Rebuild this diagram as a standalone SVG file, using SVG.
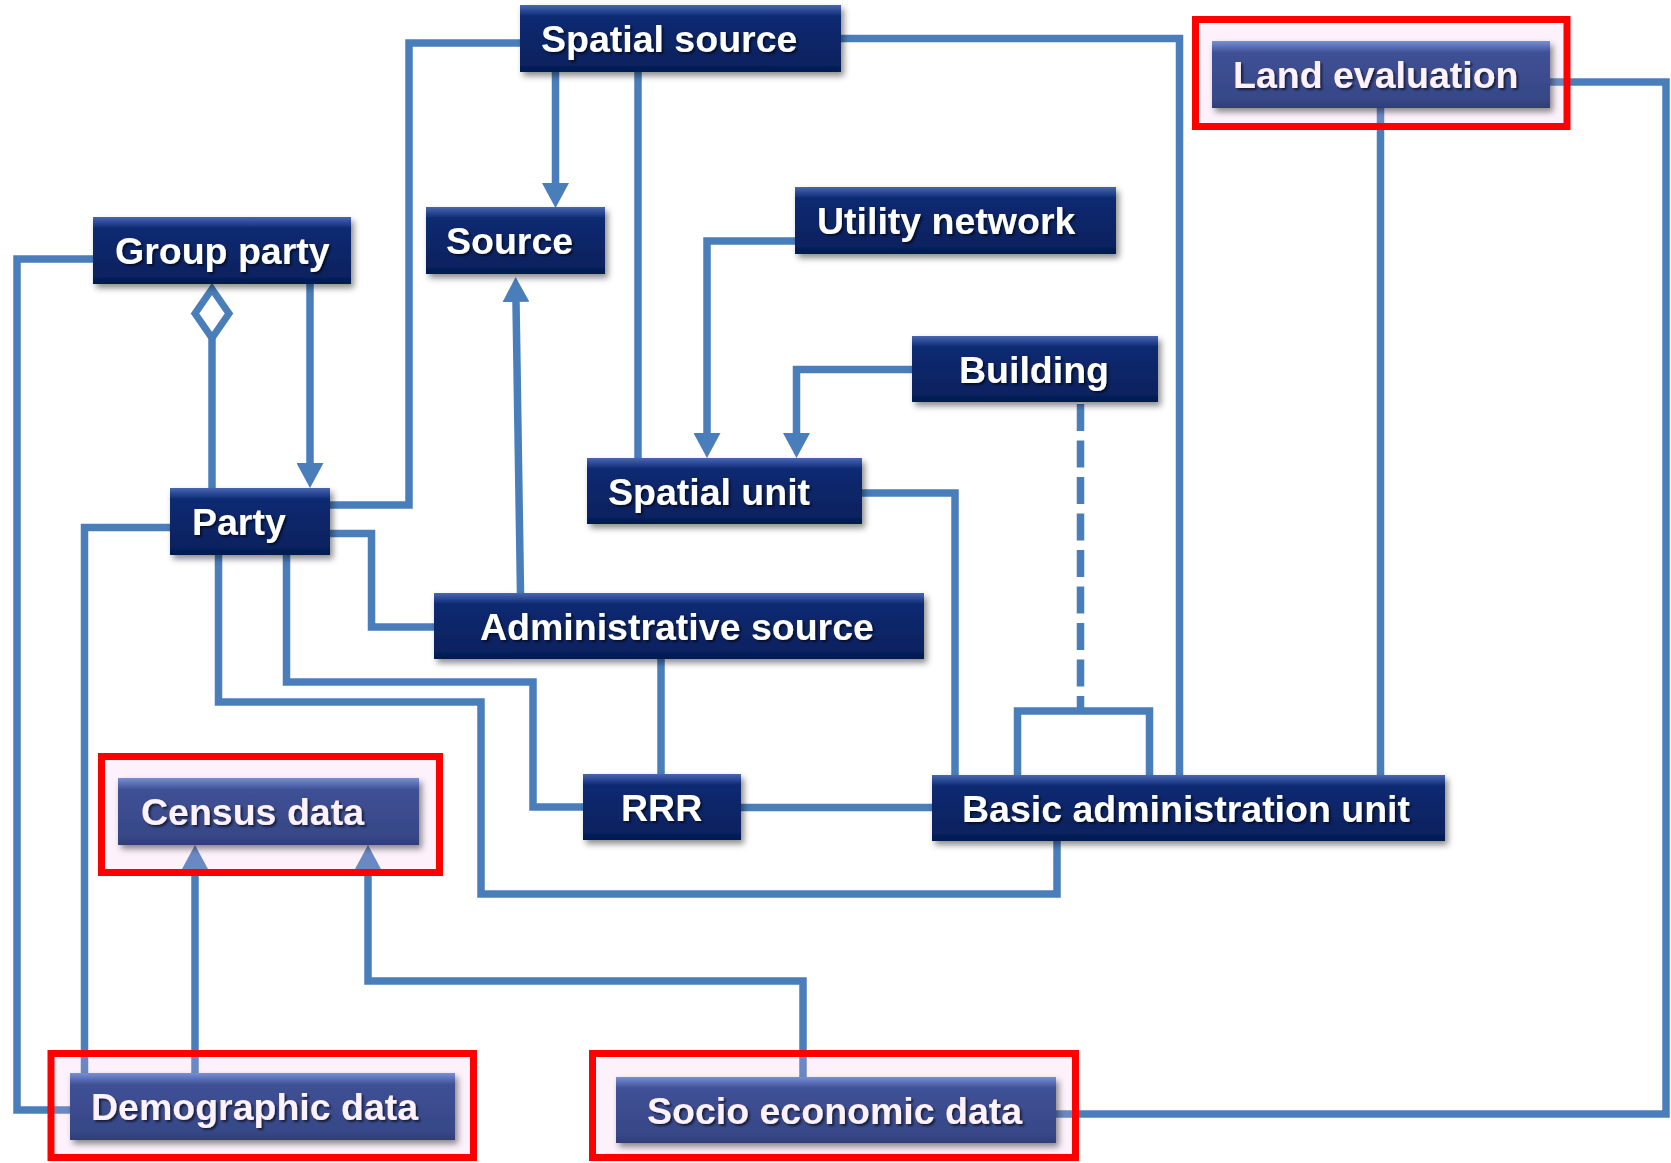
<svg xmlns="http://www.w3.org/2000/svg" width="1671" height="1163" viewBox="0 0 1671 1163">
<defs>
<linearGradient id="navy" x1="0" y1="0" x2="0" y2="1">
<stop offset="0" stop-color="#4a66b0"/>
<stop offset="0.08" stop-color="#2c4a96"/>
<stop offset="0.17" stop-color="#0c2a72"/>
<stop offset="0.88" stop-color="#07225f"/>
<stop offset="1" stop-color="#041a4e"/>
</linearGradient>
<linearGradient id="pastel" x1="0" y1="0" x2="0" y2="1">
<stop offset="0" stop-color="#7b8fd0"/>
<stop offset="0.08" stop-color="#5c72bb"/>
<stop offset="0.17" stop-color="#3f5195"/>
<stop offset="0.88" stop-color="#374787"/>
<stop offset="1" stop-color="#2f3d76"/>
</linearGradient>
<filter id="shadow" x="-10%" y="-20%" width="125%" height="160%">
<feDropShadow dx="3" dy="4" stdDeviation="3" flood-color="#000" flood-opacity="0.45"/>
</filter>
<filter id="tshadow" x="-5%" y="-20%" width="115%" height="150%">
<feDropShadow dx="2" dy="2" stdDeviation="1" flood-color="#000" flood-opacity="0.6"/>
</filter>
<marker id="arrow" viewBox="0 0 25 27" refX="0" refY="13.5" markerWidth="25" markerHeight="27" markerUnits="userSpaceOnUse" orient="auto">
<path d="M0,0 L25,13.5 L0,27 z" fill="#4a7ebb"/>
</marker>
</defs>
<style>
.c{fill:none;stroke:#4a7ebb;stroke-width:7.5;stroke-linejoin:miter}
.a{marker-end:url(#arrow)}
.d{stroke-dasharray:27 9.5}
.n{fill:url(#navy);filter:url(#shadow)}
.p{fill:url(#pastel);filter:url(#shadow)}
.t{font-family:"Liberation Sans",Arial,sans-serif;font-weight:bold;font-size:37.5px;fill:#ffffff;filter:url(#tshadow)}
.tp{fill:#fdf1fb}
.ov{fill:rgb(245,186,240);fill-opacity:0.19}
.rf{fill:none;stroke:#ff0000;stroke-width:7}
</style>
<rect width="1671" height="1163" fill="#ffffff"/>
<g id="connectors">
<path class="c" d="M520,43 H409 V505 H330"/>
<path class="c a" d="M555.5,72 V183"/>
<path class="c" d="M638,72 V458"/>
<path class="c" d="M841,38.5 H1179.5 V775"/>
<path class="c" d="M93,259 H17 V1110 H70"/>
<path class="c" d="M212,338 V488"/>
<polygon points="212,289 229,313.5 212,338 195,313.5" fill="#ffffff" stroke="#4a7ebb" stroke-width="7"/>
<path class="c a" d="M310,284 V463"/>
<path class="c" d="M170,527.5 H84.5 V1073"/>
<path class="c" d="M330,533.5 H371.5 V627 H434"/>
<path class="c" d="M286.5,555 V682 H533 V807 H583"/>
<path class="c" d="M218.5,555 V702 H481 V894 H1057 V841"/>
<path class="c a" d="M520.5,593 L516,302"/>
<path class="c" d="M661,659 V774"/>
<path class="c" d="M741,807.5 H932"/>
<path class="c a" d="M795,241 H707 V433"/>
<path class="c a" d="M912,369.5 H796.5 V433"/>
<path class="c" d="M862,493 H955 V775"/>
<path class="c d" d="M1080.5,404 V711"/>
<path class="c" d="M1017.5,775 V711 H1149.5 V775"/>
<path class="c" d="M1380.5,108 V775"/>
<path class="c" d="M1550,82 H1666 V1114 H1056"/>
<path class="c a" d="M195,1073 V870"/>
<path class="c a" d="M803,1077 V981 H368 V870"/>
</g>
<g id="spatial-source">
<rect class="n" x="520" y="5" width="321" height="67"/>
<text class="t" x="541" y="52">Spatial source</text>
</g>
<g id="source">
<rect class="n" x="426" y="207" width="179" height="67"/>
<text class="t" x="446" y="254">Source</text>
</g>
<g id="group-party">
<rect class="n" x="93" y="217" width="258" height="67"/>
<text class="t" x="115" y="264">Group party</text>
</g>
<g id="party">
<rect class="n" x="170" y="488" width="160" height="67"/>
<text class="t" x="192" y="535">Party</text>
</g>
<g id="utility-network">
<rect class="n" x="795" y="187" width="321" height="67"/>
<text class="t" x="817" y="234">Utility network</text>
</g>
<g id="building">
<rect class="n" x="912" y="336" width="246" height="66"/>
<text class="t" x="959" y="383">Building</text>
</g>
<g id="spatial-unit">
<rect class="n" x="587" y="458" width="275" height="66"/>
<text class="t" x="608" y="505">Spatial unit</text>
</g>
<g id="administrative-source">
<rect class="n" x="434" y="593" width="490" height="66"/>
<text class="t" x="480" y="640">Administrative source</text>
</g>
<g id="rrr">
<rect class="n" x="583" y="774" width="158" height="66"/>
<text class="t" x="621" y="821">RRR</text>
</g>
<g id="basic-administration-unit">
<rect class="n" x="932" y="775" width="513" height="66"/>
<text class="t" x="962" y="822">Basic administration unit</text>
</g>
<g id="land-evaluation">
<rect class="ov" x="1195.5" y="19.5" width="371.5" height="107"/>
<rect class="p" x="1212" y="41" width="338" height="67"/>
<text class="t tp" x="1233" y="88">Land evaluation</text>
<rect class="rf" x="1195.5" y="19.5" width="371.5" height="107"/>
</g>
<g id="census-data">
<rect class="ov" x="101.5" y="756.5" width="338" height="116"/>
<rect class="p" x="118" y="778" width="301" height="67"/>
<text class="t tp" x="141" y="825">Census data</text>
<rect class="rf" x="101.5" y="756.5" width="338" height="116"/>
</g>
<g id="demographic-data">
<rect class="ov" x="51" y="1053.5" width="422.5" height="104"/>
<rect class="p" x="70" y="1073" width="385" height="67"/>
<text class="t tp" x="91" y="1120">Demographic data</text>
<rect class="rf" x="51" y="1053.5" width="422.5" height="104"/>
</g>
<g id="socio-economic-data">
<rect class="ov" x="592.5" y="1053.5" width="483" height="104"/>
<rect class="p" x="616" y="1077" width="440" height="66"/>
<text class="t tp" x="647" y="1124">Socio economic data</text>
<rect class="rf" x="592.5" y="1053.5" width="483" height="104"/>
</g>
</svg>
